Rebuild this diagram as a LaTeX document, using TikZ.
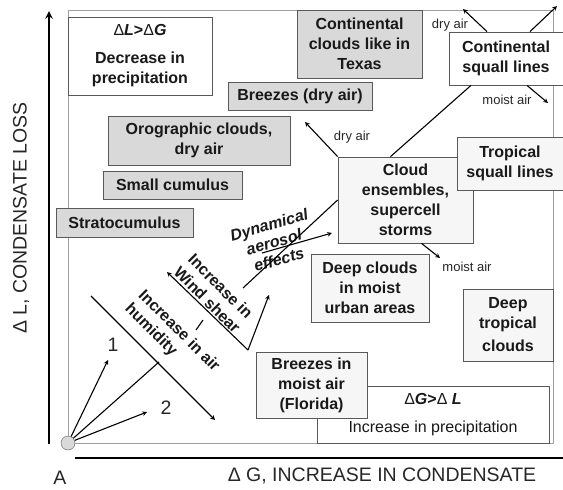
\documentclass[tikz,border=0pt]{standalone}
\usepackage{fontspec}
\setmainfont{Liberation Sans}

\begin{document}
\begin{tikzpicture}
[x=1pt,y=-1pt,
  axisArrow/.style={->,>=stealth,line width=2.4pt},%
  axisLine/.style={line width=2pt},%
  darkArrow/.style={->,>=stealth,line width=1.1pt},%
  darkLine/.style={line width=1.1pt},%
  frameLine/.style={draw=gray!75,line width=1pt},%
  boxDecorate/.style={shape=rectangle,draw=gray!70!black,line width=0.8pt,inner sep=0pt,
    align=center,text=black!90,font=\fontsize{16}{20}\selectfont\bfseries},%
  grayBox/.style={boxDecorate,fill=gray!30},%
  lightBox/.style={boxDecorate,fill=gray!7},%
  whiteBox/.style={boxDecorate,fill=white},%
  airLabel/.style={font=\fontsize{13}{15}\selectfont,text=black!85},%
  axisLabel/.style={font=\fontsize{19.5}{22}\selectfont,text=black!85},%
  slantText/.style={font=\fontsize{16}{19}\selectfont\bfseries,inner sep=0pt,text=black!90}]
\useasboundingbox (0,0) rectangle (563,490);
%% frame of the diagram
\draw[frameLine] (68,10) rectangle (553,443);
%% free ends of the connectors
\foreach \pointname/\x/\y in {yTop/49/11, yBottom/49/444, xLeft/75/458, xRight/563/458,
  oneTip/108/360, twoTip/147/412, humidMeet/159/362, humidStart/91/296, humidTip/215/420,
  shearTip/167/272, shearCorner/248/350, shearTop/269/295, dashA/196/330, dashB/203/320,
  aerosolStart/243/288, aerosolFrom/262/253, aerosolTip/332/233,
  dryTip/305/122, dryTipB/463/9, upTip/557/6, moistTip/548/103, moistTipB/440/258}
{
  \coordinate (\pointname) at (\x,\y);
}
%% axes
\draw[axisArrow] (yBottom) -- (yTop);
\draw[axisLine] (xLeft) -- (xRight);
\node (yLabel) at (21,218) [axisLabel,rotate=90] {Δ L, CONDENSATE LOSS};
\node (xLabel) at (382,476) [axisLabel] {Δ G, INCREASE IN CONDENSATE};
\node (A) at (60,478) [axisLabel] {A};
%% boxes
\node (incr) at (433,414.5) [whiteBox,minimum width=232,minimum height=57]
  {{\mdseries Δ}\textit{G}>{\mdseries Δ} \textit{L}\\[8pt]{\mdseries Increase in precipitation}};
\node (decr) at (140,56) [whiteBox,minimum width=144,minimum height=78]
  {{\mdseries Δ}\textit{L}>{\mdseries Δ}\textit{G}\\[8pt]Decrease in\\precipitation};
\node (contSquall) at (506,58.5) [whiteBox,minimum width=114,minimum height=53]
  {Continental\\squall lines};
\foreach \nodename/\x/\y/\w/\h/\txt in {texas/359.5/44/125/68/{Continental\\clouds like in\\Texas},
  breezesDry/300/96/144/28/{Breezes (dry air)}, orographic/199/140.5/182/49/{Orographic clouds,\\dry air},
  smallCumulus/172.5/185/139/28/{Small cumulus}, stratocumulus/124.5/222.5/137/29/{Stratocumulus}}
{
  \node (\nodename) at (\x,\y) [grayBox,minimum width=\w,minimum height=\h] {\txt};
}
\foreach \nodename/\x/\y/\w/\h/\txt in {ensembles/405.5/200/135/86/{Cloud\\ensembles,\\supercell\\storms},
  tropSquall/510/163.5/106/53/{Tropical\\squall lines},
  urban/370/288/118/68/{Deep clouds\\in moist\\urban areas},
  deepTropical/508/325/90/72/{Deep\\tropical\\[3pt]clouds},
  florida/311.5/385/111/66/{Breezes in\\moist air\\(Florida)}}
{
  \node (\nodename) at (\x,\y) [lightBox,minimum width=\w,minimum height=\h] {\txt};
}
%% slanted texts
\node (humidity) at (172,338) [slantText,rotate=-45,align=left] {Increase in air\\humidity};
\node (shear) at (214,293) [slantText,rotate=-45,align=center] {Increase in\\Wind shear};
\node (aerosol) at (274,242) [slantText,rotate=16,align=center,font=\fontsize{16}{18}\selectfont\bfseries\itshape]
  {Dynamical\\aerosol\\effects};
%% origin and its arrows
\node (origin) at (68,443) [shape=circle,draw=gray!70!black,fill=gray!30,minimum size=14pt,inner sep=0pt] {};
\draw[darkArrow] (origin) -- (oneTip);
\draw[darkArrow] (origin) -- (twoTip);
\draw[darkLine] (origin) -- (humidMeet);
\node (one) at (113,345) [axisLabel] {1};
\node (two) at (166,408) [axisLabel] {2};
%% trend lines
\draw[darkArrow] (humidStart) -- (humidTip);
\draw[darkArrow] (shearCorner) -- (shearTip);
\draw[darkArrow] (shearCorner) -- (shearTop);
\draw[darkLine] (dashA) -- (dashB);
\draw[darkLine] (aerosolStart) -- (ensembles.west);
\draw[darkArrow] (aerosolFrom) -- (aerosolTip);
%% air flows
\draw[darkArrow] (ensembles.north west) -- (dryTip);
\draw[darkLine] ([xshift=-15pt]ensembles.north) -- ([xshift=-35pt]contSquall.south);
\draw[darkArrow] ([xshift=-19pt]contSquall.north) -- (dryTipB);
\draw[darkArrow] ([xshift=24pt]contSquall.north) -- (upTip);
\draw[darkArrow] ([xshift=21pt]contSquall.south) -- (moistTip);
\draw[darkArrow] ([xshift=16pt]ensembles.south) -- (moistTipB);
\node (dryAir) at (352,137) [airLabel] {dry air};
\node (dryAirB) at (450,25) [airLabel] {dry air};
\node (moistAir) at (507,100) [airLabel] {moist air};
\node (moistAirB) at (467,267) [airLabel] {moist air};
\end{tikzpicture}
\end{document}
